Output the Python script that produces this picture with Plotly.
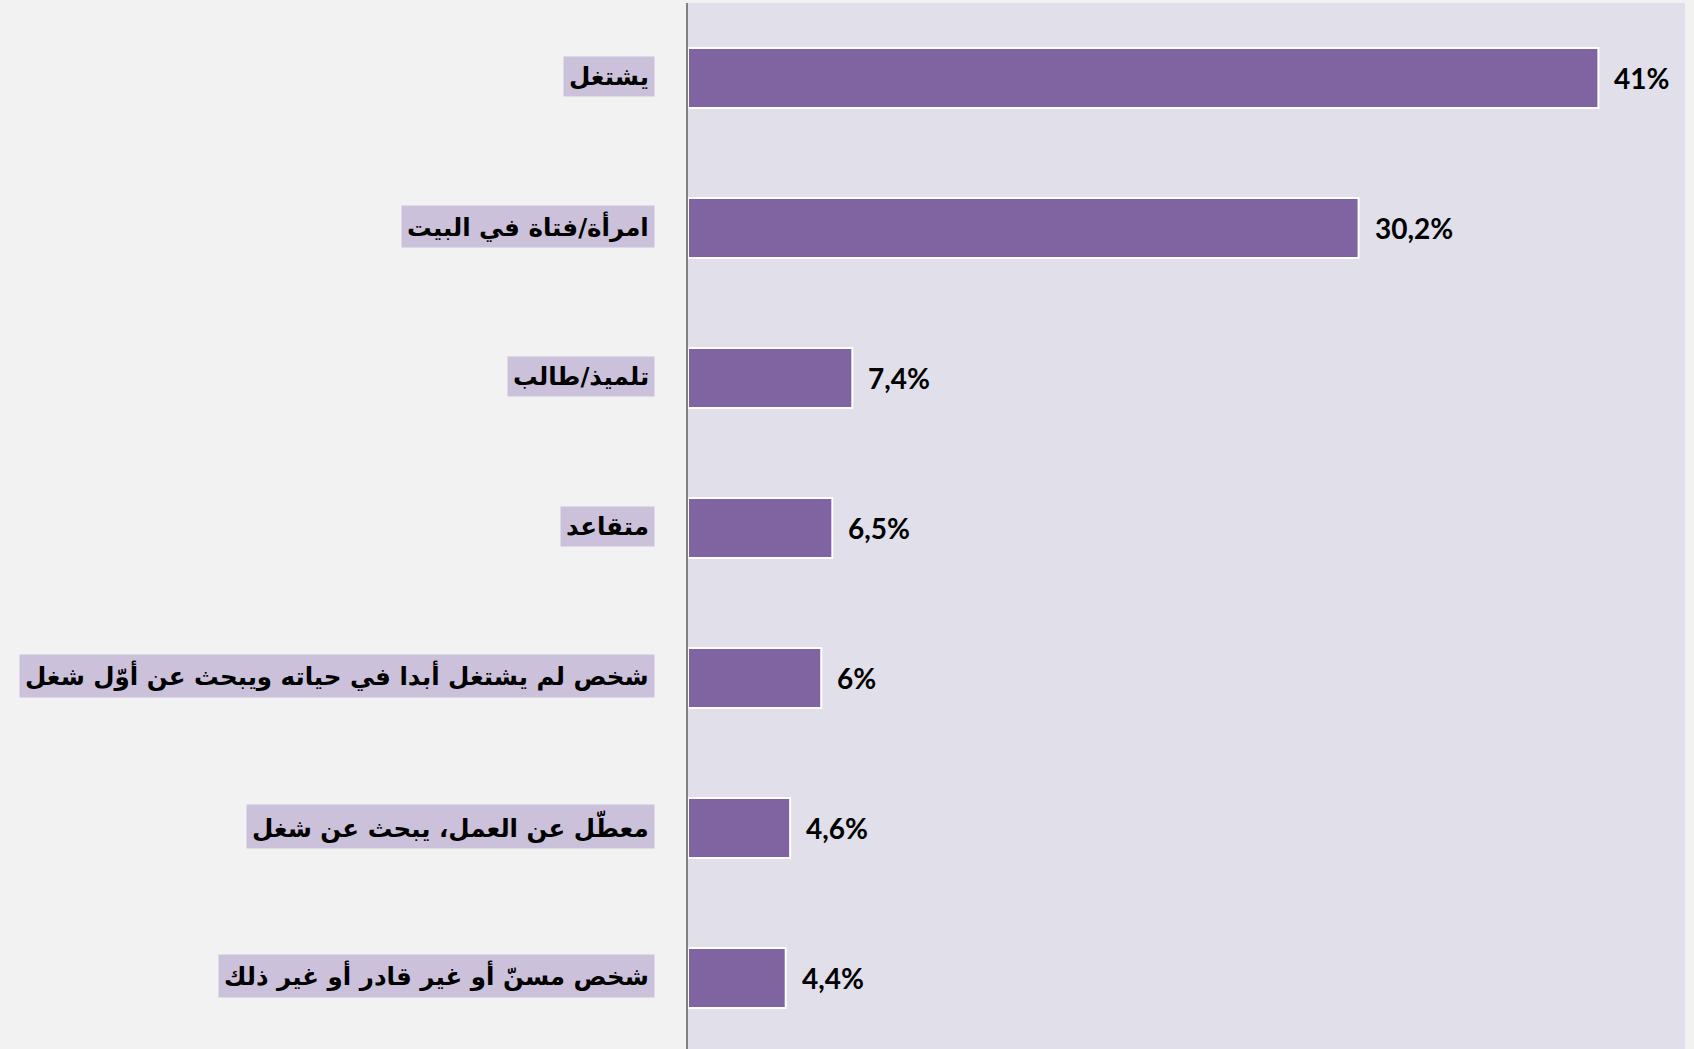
import plotly.graph_objects as go

categories = [
    "يشتغل",
    "امرأة/فتاة في البيت",
    "تلميذ/طالب",
    "متقاعد",
    "شخص لم يشتغل أبدا في حياته ويبحث عن أوّل شغل",
    "معطّل عن العمل، يبحث عن شغل",
    "شخص مسنّ أو غير قادر أو غير ذلك",
]
values = [41, 30.2, 7.4, 6.5, 6, 4.6, 4.4]
value_labels = ["41%", "30,2%", "7,4%", "6,5%", "6%", "4,6%", "4,4%"]

fig = go.Figure()
fig.add_trace(go.Bar(
    y=categories,
    x=values,
    orientation="h",
    width=0.4,
    marker=dict(color="#8064a2", line=dict(color="#ffffff", width=2)),
    hoverinfo="x+y",
))

annotations = []
for cat, v, lab in zip(categories, values, value_labels):
    annotations.append(dict(
        x=v, y=cat, xref="x", yref="y", text=lab, showarrow=False,
        xanchor="left", yanchor="middle", xshift=14,
        font=dict(family="Lato", size=28, color="#000000", weight="bold"),
    ))
    annotations.append(dict(
        x=0, y=cat, xref="x", yref="y", text=cat, showarrow=False,
        xanchor="right", yanchor="middle", xshift=-33, yshift=2,
        bgcolor="#ccc1da", borderpad=5,
        font=dict(family="DejaVu Sans", size=24.5, color="#000000", weight="bold"),
    ))

fig.update_layout(
    width=1694, height=1049,
    margin=dict(l=688, r=9, t=3, b=0),
    paper_bgcolor="#f2f2f2",
    plot_bgcolor="#e1dfe9",
    showlegend=False,
    annotations=annotations,
    xaxis=dict(range=[0, 44.9], visible=False, showgrid=False, zeroline=False),
    yaxis=dict(
        categoryorder="array", categoryarray=categories,
        range=[6.473, -0.5], showticklabels=False, ticks="",
        showgrid=False, zeroline=False,
        showline=True, linecolor="#808080", linewidth=2,
    ),
    bargap=0.6,
)

fig.write_html(
    "out.html",
    config={"displayModeBar": False},
    post_script="document.body.style.margin='0';document.body.style.background='#f2f2f2';document.body.style.overflow='hidden';",
)
